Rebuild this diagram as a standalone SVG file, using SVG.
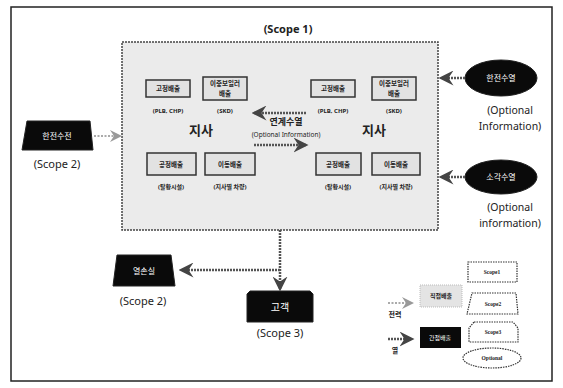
<svg xmlns="http://www.w3.org/2000/svg" width="563" height="388" viewBox="0 0 563 388">
<style>
text{font-family:"Noto Sans","Noto Sans CJK KR",sans-serif;fill:#222;text-anchor:middle}
.scope{font-size:11px;font-weight:bold}
.kb{font-size:6.5px;font-weight:bold}
.lbl{font-size:6px;font-weight:bold}
.big{font-size:13px;font-weight:bold}
.opt{font-size:10.5px}
.inner{fill:#e2e2e2;stroke:#333;stroke-width:1.5}
.blk{fill:#0a0a0a;stroke:#222}
.wt{fill:#fff;font-size:8px}
.heat{fill:none;stroke:#555;stroke-width:2.5;stroke-dasharray:2 1}
.elec{fill:none;stroke:#aaa;stroke-width:2;stroke-dasharray:2 1.5}
.leg{fill:#fff;stroke:#333;stroke-width:1.2;stroke-dasharray:1.5 1}
.legt{font-size:5.5px;font-family:"Liberation Serif",serif;font-weight:bold}
</style>
<defs>
<marker id="ah" markerWidth="6" markerHeight="6" refX="5" refY="3" orient="auto" markerUnits="strokeWidth">
<path d="M0,0 L6,3 L0,6 L2,3 Z" fill="#444"/>
</marker>
<marker id="ahl" markerWidth="6" markerHeight="6" refX="5" refY="3" orient="auto" markerUnits="strokeWidth">
<path d="M0,0 L6,3 L0,6 L2,3 Z" fill="#999"/>
</marker>
</defs>
<rect x="11" y="7" width="541" height="374" fill="#fff" stroke="#222" stroke-width="1.5"/>
<text class="scope" x="288" y="33">(Scope 1)</text>
<g id="scope1-box">
<rect x="122" y="42" width="316" height="188" fill="#ebebeb" stroke="#444" stroke-width="1.5" stroke-dasharray="2 1"/>
</g>
<g id="left-branch">
<rect class="inner" x="146" y="80" width="44" height="17"/>
<text class="kb" x="168" y="91">고정배출</text>
<text class="lbl" x="168" y="113">(PLB, CHP)</text>
<rect class="inner" x="203" y="77" width="44" height="23"/>
<text class="kb" x="225" y="86">이중보일러</text>
<text class="kb" x="225" y="96">배출</text>
<text class="lbl" x="225" y="113">(SKD)</text>
<text class="big" x="201" y="135">지사</text>
<rect class="inner" x="147" y="153" width="49" height="22"/>
<text class="kb" x="171" y="167">공정배출</text>
<text class="lbl" x="171" y="189">(탈황시설)</text>
<rect class="inner" x="205" y="153" width="50" height="22"/>
<text class="kb" x="230" y="167">이동배출</text>
<text class="lbl" x="230" y="189">(지사별 차량)</text>
</g>
<g id="right-branch">
<rect class="inner" x="311" y="80" width="44" height="17"/>
<text class="kb" x="333" y="91">고정배출</text>
<text class="lbl" x="333" y="113">(PLB, CHP)</text>
<rect class="inner" x="372" y="77" width="44" height="23"/>
<text class="kb" x="394" y="86">이중보일러</text>
<text class="kb" x="394" y="96">배출</text>
<text class="lbl" x="394" y="113">(SKD)</text>
<text class="big" x="374" y="135">지사</text>
<rect class="inner" x="316" y="153" width="45" height="22"/>
<text class="kb" x="338" y="167">공정배출</text>
<text class="lbl" x="338" y="189">(탈황시설)</text>
<rect class="inner" x="372" y="153" width="48" height="22"/>
<text class="kb" x="396" y="167">이동배출</text>
<text class="lbl" x="396" y="189">(지사별 차량)</text>
</g>
<g id="link-label">
<text x="286" y="125" style="font-size:9px;font-weight:bold">연계수열</text>
<text x="286" y="137" style="font-size:6.5px">(Optional Information)</text>
</g>
<g id="kepco-heat">
<ellipse class="blk" cx="501" cy="78" rx="36" ry="18"/>
<text class="wt" x="501" y="81">한전수열</text>
<text class="opt" x="510" y="114">(Optional</text>
<text class="opt" x="510" y="130">Information)</text>
</g>
<g id="incineration-heat">
<ellipse class="blk" cx="501" cy="177" rx="36" ry="17"/>
<text class="wt" x="501" y="180">소각수열</text>
<text class="opt" x="510" y="211">(Optional</text>
<text class="opt" x="510" y="227">information)</text>
</g>
<g id="kepco-power">
<path class="blk" d="M27,121 L90,121 L93,150 L22,150 Z"/>
<text class="wt" x="57" y="139">한전수전</text>
<text class="scope" x="57" y="168" style="font-weight:normal">(Scope 2)</text>
</g>
<g id="heat-loss">
<path class="blk" d="M117,255 L171,255 L175,286 L113,286 Z"/>
<text class="wt" x="144" y="274">열손실</text>
<text class="scope" x="143" y="305" style="font-weight:normal">(Scope 2)</text>
</g>
<g id="customer">
<path class="blk" d="M250,291 L310,291 L313,294 L313,322 L247,322 L247,294 Z"/>
<text class="wt" x="280" y="311" style="font-size:10px">고객</text>
<text class="scope" x="280" y="337" style="font-weight:normal">(Scope 3)</text>
</g>
<g id="connectors">
<path class="heat" d="M306,113 L254,113" marker-end="url(#ah)"/>
<path class="heat" d="M254,145 L306,145" marker-end="url(#ah)"/>
<path class="heat" d="M465,78 L441,78" marker-end="url(#ah)"/>
<path class="heat" d="M465,177 L441,177" marker-end="url(#ah)"/>
<path class="elec" d="M94,136 L120,136" marker-end="url(#ahl)"/>
<path class="heat" d="M280,230 L280,289" marker-end="url(#ah)"/>
<path class="heat" d="M280,270 L181,270" marker-end="url(#ah)"/>
</g>
<g id="legend">
<path class="elec" d="M388,303 L412,303" marker-end="url(#ahl)"/>
<text x="395" y="317" style="font-size:7px;font-weight:bold">전력</text>
<path class="heat" d="M388,339 L412,339" marker-end="url(#ah)"/>
<text x="395" y="353" style="font-size:7px;font-weight:bold">열</text>
<rect x="420" y="285" width="42" height="22" fill="#e4e4e4" stroke="#bbb" stroke-dasharray="1 1"/>
<text x="441" y="298" style="font-size:6px;font-weight:bold">직접배출</text>
<rect x="420" y="327" width="41" height="21" fill="#0a0a0a"/>
<text x="440" y="340" style="font-size:6px;fill:#fff">간접배출</text>
<rect class="leg" x="468" y="262" width="49" height="20"/>
<text class="legt" x="492" y="274">Scope1</text>
<path class="leg" d="M472,293 L516,293 L518,314 L467,314 Z"/>
<text class="legt" x="493" y="306">Scope2</text>
<path class="leg" d="M474,322 L513,322 L518,328 L518,342 L469,342 L469,328 Z"/>
<text class="legt" x="493" y="334">Scope3</text>
<ellipse class="leg" cx="492" cy="358" rx="29" ry="10"/>
<text class="legt" x="492" y="360">Optional</text>
</g>
</svg>
